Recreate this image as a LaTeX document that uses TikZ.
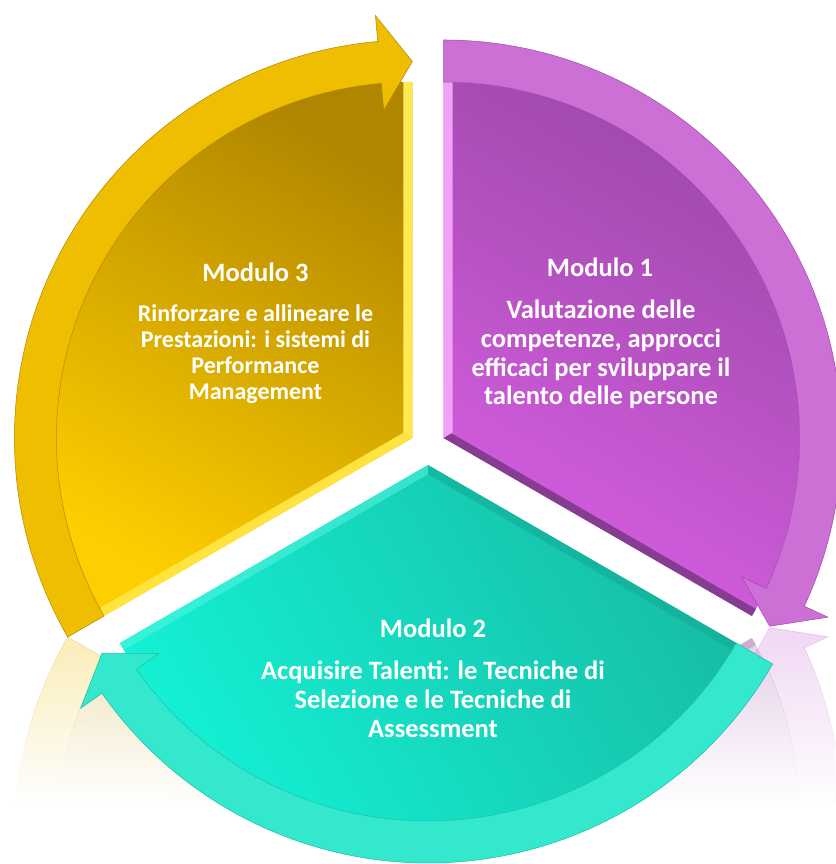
\documentclass[tikz,border=0pt]{standalone}
\usepackage{fontspec}
\newfontfamily\carl{Carlito}
\usetikzlibrary{fadings,calc}
\tikzfading[name=fadeup, top color=transparent!100, bottom color=transparent!0]
\definecolor{ybandc}{RGB}{239,190,0}
\definecolor{ydark}{RGB}{176,134,0}
\definecolor{ylight}{RGB}{255,206,0}
\definecolor{yhi}{RGB}{255,234,80}
\definecolor{pbandc}{RGB}{204,112,214}
\definecolor{pdark}{RGB}{158,72,170}
\definecolor{plight}{RGB}{214,94,226}
\definecolor{phi}{RGB}{242,160,248}
\definecolor{tbandc}{RGB}{52,232,206}
\definecolor{tdark}{RGB}{22,190,166}
\definecolor{tlight}{RGB}{20,242,214}
\tikzset{
  edgeline/.style={draw=#1, line width=0.5pt},
  ttl/.style={text=white, font=\carl\bfseries\fontsize{26.5}{28.7}\selectfont, inner sep=0pt, anchor=base},
  bodytxt/.style={text=white, font=\carl\bfseries\fontsize{26.5}{28.7}\selectfont, align=center, inner sep=0pt, anchor=base},
  bodysmall/.style={text=white, font=\carl\bfseries\fontsize{24}{26.3}\selectfont, align=center, inner sep=0pt, anchor=base},
}
% yellow sector (Modulo 3): spans 90..210, arrow at 90
\newcommand{\ysector}{%
  \path[top color=ydark, bottom color=ylight, shading angle=-30] (0,0) -- (90:356) arc[start angle=90, end angle=210, radius=356] -- cycle;
  \fill[yhi] (0,0) -- (90:356) -- ++(-9,0) -- (150:10.4) -- cycle;
  \fill[yhi!80!ylight] (0,0) -- (210:356) -- ($(210:356)+(120:9)$) -- (150:10.4) -- cycle;
  \path[fill=ybandc, edgeline=ydark] (210:398) arc[start angle=210, end angle=95, radius=398] -- (95:424) -- (90:376.5) -- (95:329) -- (95:356) arc[start angle=95, end angle=210, radius=356] -- cycle;
}
% purple sector (Modulo 1): spans -30..90, arrow at -30
\newcommand{\psector}{%
  \path[top color=pdark, bottom color=plight, shading angle=-30] (0,0) -- (90:356) arc[start angle=90, end angle=-30, radius=356] -- cycle;
  \fill[phi] (0,0) -- (90:356) -- ++(9,0) -- (30:10.4) -- cycle;
  \fill[pdark!85!black] (0,0) -- (-30:356) -- ($(-30:356)+(60:8)$) -- (30:9.2) -- cycle;
  \path[fill=pbandc, edgeline=pdark] (90:398) arc[start angle=90, end angle=-25, radius=398] -- (-25:424) -- (-30:376.5) -- (-25:329) -- (-25:356) arc[start angle=-25, end angle=90, radius=356] -- cycle;
}
% teal sector (Modulo 2): spans 210..330, arrow at 210
\newcommand{\tsector}{%
  \path[top color=tdark, bottom color=tlight, shading angle=-60] (0,0) -- (330:356) arc[start angle=330, end angle=210, radius=356] -- cycle;
  \fill[tdark!90!black, opacity=0.6] (0,0) -- (330:356) -- ($(330:356)+(240:8)$) -- (270:9.2) -- cycle;
  \fill[tlight!70!white, opacity=0.5] (0,0) -- (210:356) -- ($(210:356)+(300:8)$) -- (270:9.2) -- cycle;
  \path[fill=tbandc, edgeline=tdark] (330:398) arc[start angle=330, end angle=215, radius=398] -- (215:424) -- (210:376.5) -- (215:329) -- (215:356) arc[start angle=215, end angle=330, radius=356] -- cycle;
}
\begin{document}
\begin{tikzpicture}[x=1pt, y=1pt]
\useasboundingbox (0,0) rectangle (835,864);
% reflections
\begin{scope}
  \clip (0,60) rectangle (300,227);
  \begin{scope}[yshift=454, yscale=-1, opacity=0.28]
    \begin{scope}[shift={(412.4,426)}]\ysector\end{scope}
  \end{scope}
  \fill[white, path fading=fadeup] (0,60) rectangle (300,227);
\end{scope}
\begin{scope}
  \clip (560,60) rectangle (835,237);
  \begin{scope}[yshift=474, yscale=-1, opacity=0.28]
    \begin{scope}[shift={(443.6,426)}]\psector\end{scope}
  \end{scope}
  \fill[white, path fading=fadeup] (560,60) rectangle (835,237);
\end{scope}
% main sectors
\begin{scope}[shift={(412.4,426)}]\ysector\end{scope}
\begin{scope}[shift={(443.6,426)}]\psector\end{scope}
\begin{scope}[shift={(428,399)}]\tsector\end{scope}
% texts (multi-line nodes: base = baseline of last line)
\node[ttl] (m1t) at (600,587) {Modulo 1};
\node[bodytxt] (m1b) at (601,459) {Valutazione delle\\competenze, approcci\\efficaci per sviluppare il\\talento delle persone};
\node[ttl] (m2t) at (433,226) {Modulo 2};
\node[bodytxt] (m2b) at (433,126.6) {Acquisire Talenti: le Tecniche di\\Selezione e le Tecniche di\\Assessment};
\node[ttl] (m3t) at (255.5,582) {Modulo 3};
\node[bodysmall] (m3b) at (255.5,464) {Rinforzare e allineare le\\Prestazioni: i sistemi di\\Performance\\Management};
\end{tikzpicture}
\end{document}
